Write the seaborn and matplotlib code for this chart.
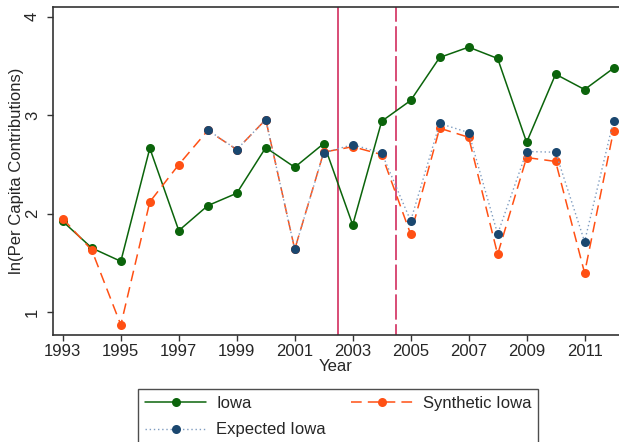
import matplotlib
matplotlib.use("Agg")
import matplotlib.pyplot as plt
import seaborn as sns
import numpy as np
import pandas as pd

years = list(range(1993, 2013))
iowa = [1.92, 1.65, 1.515, 2.664, 1.827, 2.081, 2.207, 2.671, 2.471, 2.712,
        1.885, 2.939, 3.15, 3.587, 3.692, 3.577, 2.725, 3.417, 3.261, 3.478]
synthetic = [1.949, 1.627, 0.868, 2.119, 2.498, 2.845, 2.651, 2.956, 1.637, 2.625,
             2.68, 2.60, 1.79, 2.868, 2.776, 1.586, 2.57, 2.53, 1.397, 2.844]
exp_years = list(range(1998, 2013))
expected = [2.85, 2.651, 2.956, 1.637, 2.62, 2.70, 2.617, 1.926, 2.916, 2.824,
            1.793, 2.631, 2.624, 1.715, 2.946]
xticks = [1993, 1995, 1997, 1999, 2001, 2003, 2005, 2007, 2009, 2011]
yticks = [1, 2, 3, 4]
vlines = [2002.5, 2004.5]

sns.set_theme(style="white")
plt.rcParams['font.family'] = ['Liberation Sans', 'DejaVu Sans']

W, H = 619, 442
fig = plt.figure(figsize=(W / 100, H / 100), dpi=100)
ax = fig.add_axes([53 / W, 1 - 335 / H, (618.5 - 53) / W, (335 - 7) / H])

green = "#0B640B"
orange = "#FF5014"
navy = "#1A476F"
crim = "#D63E6B"
fs = 12

ms = 6.5
sns.lineplot(x=years, y=iowa, ax=ax, color=green, marker="o", markersize=ms,
             markeredgewidth=0, linewidth=1.1, label="Iowa")
sns.lineplot(x=years, y=synthetic, ax=ax, color=orange, marker="o", markersize=ms,
             markeredgewidth=0, linewidth=1.1, label="Synthetic Iowa", linestyle=(0, (7, 4)))
sns.lineplot(x=exp_years, y=expected, ax=ax, color=navy, marker="o", markersize=ms,
             markeredgewidth=0, linewidth=1.0, label="Expected Iowa", linestyle=(0, (1, 2)))
ax.lines[-1].set_color("#7f9cc0")
ax.lines[-1].set_markerfacecolor(navy)

ax.axvline(vlines[0], color=crim, linewidth=1.3, zorder=0)
ax.axvline(vlines[1], color=crim, linewidth=1.3, linestyle=(8, (14, 2.5)), zorder=0)

ax.set_xlim(1992.66, 2012.17)
ax.set_ylim(0.766, 4.10)
ax.set_xticks(xticks)
ax.set_yticks(yticks)
ax.set_xticklabels([str(t) for t in xticks], fontsize=fs)
ax.set_yticklabels([str(t) for t in yticks], fontsize=fs, rotation=90, va="center")
ax.tick_params(axis="both", direction="out", length=4.3, width=1, color="#333333",
               pad=2, left=True, bottom=True)
ax.tick_params(axis="y", pad=5)
for s in ["left", "bottom", "top"]:
    ax.spines[s].set_color("#333333")
    ax.spines[s].set_linewidth(1.2)
ax.spines["right"].set_visible(False)
ax.set_xlabel("Year", fontsize=fs, labelpad=0)
ax.set_ylabel("ln(Per Capita Contributions)", fontsize=fs, labelpad=1)

handles, labels = ax.get_legend_handles_labels()
ax.get_legend().remove()
order = [0, 2, 1]
leg = fig.legend([handles[i] for i in order], [labels[i] for i in order],
                 loc="upper center", bbox_to_anchor=(338 / W, 1 - 389 / H),
                 borderaxespad=0,
                 ncol=2, frameon=True, fancybox=False, fontsize=fs,
                 handlelength=3.7, columnspacing=1.5, labelspacing=0.7,
                 borderpad=0.4, handletextpad=0.6)
leg.get_frame().set_edgecolor("#222222")
leg.get_frame().set_linewidth(1.0)

fig.savefig("out.png", dpi=100)
